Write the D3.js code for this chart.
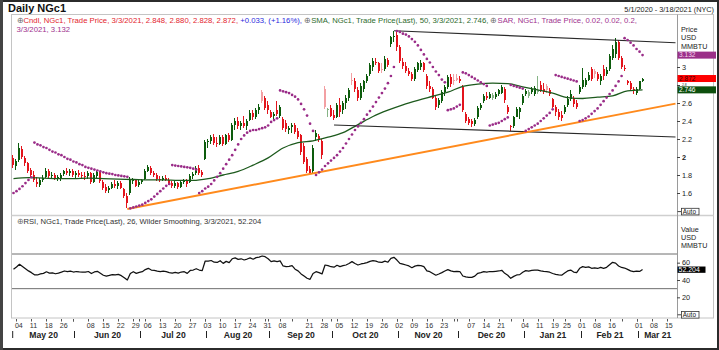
<!DOCTYPE html>
<html><head><meta charset="utf-8">
<script src="https://cdn.jsdelivr.net/npm/d3@7/dist/d3.min.js"></script>
<style>
html,body{margin:0;padding:0;background:#fff;}
svg{display:block;font-family:"Liberation Sans",Arial,Helvetica,sans-serif;}
</style></head>
<body><svg id="c" width="719" height="350"></svg>
<script>
// ---------------- DATA ----------------
const startDate = "2020-05-01", endDate = "2021-03-18";
const holidays = ["2020-05-25","2020-07-03","2020-09-07","2020-11-26","2020-12-25","2021-01-01","2021-01-18","2021-02-15"];

const opens = [1.99,1.90,1.97,2.09,1.99,1.93,1.86,1.80,1.72,1.69,1.75,1.78,1.84,1.79,1.80,1.76,1.77,1.81,1.85,1.82,
1.84,1.80,1.82,1.80,1.79,1.79,1.82,1.72,1.79,1.83,1.72,1.67,1.63,1.66,1.70,1.68,1.71,1.65,1.57,1.60,
1.73,1.75,1.69,1.72,1.76,1.85,1.88,1.82,1.80,1.76,1.74,1.77,1.75,1.71,1.68,1.71,1.67,1.72,1.73,1.72,
1.79,1.82,1.88,1.83,1.98,2.17,2.18,2.22,2.16,2.15,2.22,2.15,2.24,2.19,2.36,2.40,2.34,2.38,2.35,2.41,
2.49,2.44,2.52,2.72,2.66,2.58,2.50,2.46,2.52,2.46,2.42,2.38,2.30,2.33,2.36,2.29,2.24,2.12,1.98,1.87,
1.84,2.22,2.23,2.18,2.76,2.52,2.55,2.47,2.45,2.58,2.52,2.60,2.66,2.86,2.84,2.74,2.66,2.76,2.84,2.92,
3.00,3.06,3.04,2.98,2.98,3.08,3.26,3.33,3.36,3.22,3.06,3.01,2.96,2.92,2.87,2.97,3.00,3.04,2.90,2.79,
2.76,2.66,2.58,2.62,2.72,2.78,2.89,2.86,2.88,2.87,2.78,2.48,2.42,2.40,2.37,2.44,2.55,2.62,2.68,2.66,
2.66,2.67,2.70,2.71,2.76,2.56,2.34,2.35,2.45,2.50,2.60,2.70,2.68,2.72,2.70,2.72,2.80,2.76,2.79,2.75,
2.64,2.56,2.50,2.47,2.50,2.58,2.64,2.66,2.60,2.72,2.78,2.80,2.86,2.98,2.96,2.92,2.84,2.98,2.92,2.98,
3.10,3.14,3.28,3.10,2.99,2.85,2.82,2.76,2.71,2.76,2.848];
const highs = [2.02,1.98,2.16,2.12,2.01,1.95,1.88,1.84,1.78,1.77,1.80,1.88,1.87,1.83,1.82,1.80,1.82,1.86,1.88,1.87,
1.87,1.84,1.86,1.83,1.83,1.84,1.83,1.82,1.85,1.84,1.74,1.70,1.68,1.72,1.74,1.73,1.73,1.66,1.60,1.78,
1.77,1.76,1.74,1.76,1.87,1.91,1.90,1.85,1.82,1.79,1.79,1.80,1.77,1.73,1.73,1.72,1.74,1.76,1.76,1.81,
1.83,1.90,1.91,1.86,2.19,2.20,2.25,2.26,2.22,2.25,2.24,2.26,2.27,2.38,2.43,2.44,2.40,2.46,2.42,2.52,
2.52,2.55,2.59,2.74,2.68,2.62,2.52,2.50,2.62,2.58,2.44,2.41,2.35,2.38,2.38,2.32,2.26,2.16,2.00,1.90,
2.13,2.30,2.26,2.20,2.79,2.55,2.58,2.52,2.60,2.66,2.62,2.69,2.77,2.93,2.88,2.78,2.82,2.86,2.92,3.05,
3.10,3.10,3.06,3.04,3.12,3.10,3.35,3.40,3.40,3.24,3.10,3.06,2.99,2.95,3.00,3.06,3.08,3.06,2.92,2.84,
2.78,2.68,2.66,2.74,2.80,2.91,2.92,2.92,2.92,2.90,2.80,2.50,2.44,2.42,2.43,2.57,2.60,2.70,2.72,2.72,
2.71,2.72,2.76,2.80,2.78,2.58,2.36,2.46,2.56,2.56,2.70,2.76,2.75,2.78,2.79,2.90,2.84,2.82,2.81,2.77,
2.66,2.58,2.53,2.51,2.58,2.68,2.74,2.68,2.63,2.80,2.99,2.88,2.95,3.00,2.98,2.94,2.92,3.02,3.00,3.14,
3.25,3.32,3.30,3.12,3.02,2.86,2.84,2.78,2.78,2.85,2.880];
const lows = [1.88,1.86,1.95,1.98,1.90,1.82,1.78,1.72,1.67,1.67,1.72,1.77,1.77,1.76,1.74,1.73,1.73,1.79,1.80,1.79,
1.78,1.77,1.78,1.76,1.74,1.76,1.70,1.71,1.77,1.71,1.63,1.60,1.60,1.64,1.66,1.65,1.64,1.55,1.43,1.58,
1.70,1.67,1.67,1.70,1.75,1.83,1.80,1.78,1.73,1.72,1.73,1.73,1.69,1.66,1.66,1.65,1.66,1.70,1.67,1.71,
1.76,1.80,1.80,1.78,1.97,2.10,2.14,2.13,2.11,2.13,2.12,2.13,2.17,2.18,2.30,2.31,2.30,2.32,2.30,2.40,
2.41,2.42,2.48,2.60,2.52,2.48,2.43,2.40,2.46,2.43,2.30,2.28,2.26,2.27,2.26,2.20,2.02,1.92,1.82,1.80,
1.82,2.18,2.17,1.98,2.53,2.45,2.44,2.41,2.43,2.45,2.48,2.53,2.62,2.80,2.72,2.62,2.63,2.72,2.82,2.90,
2.96,3.02,2.93,2.93,2.96,3.00,3.22,3.28,3.18,3.04,2.98,2.93,2.90,2.84,2.85,2.95,2.97,2.95,2.76,2.72,
2.64,2.52,2.55,2.60,2.68,2.76,2.78,2.80,2.84,2.82,2.50,2.38,2.36,2.33,2.35,2.42,2.52,2.60,2.63,2.64,
2.63,2.64,2.68,2.70,2.60,2.48,2.29,2.32,2.44,2.42,2.58,2.68,2.66,2.70,2.68,2.70,2.72,2.70,2.71,2.68,
2.54,2.46,2.41,2.40,2.48,2.56,2.62,2.56,2.53,2.70,2.76,2.78,2.84,2.84,2.88,2.84,2.80,2.86,2.90,2.96,
3.08,3.10,3.08,2.98,2.96,2.80,2.73,2.70,2.69,2.74,2.828];
const closes = [1.91,1.96,2.10,2.00,1.93,1.85,1.80,1.74,1.70,1.75,1.77,1.85,1.79,1.80,1.76,1.78,1.80,1.84,1.82,1.85,
1.80,1.82,1.80,1.79,1.78,1.82,1.72,1.80,1.83,1.73,1.66,1.62,1.66,1.70,1.68,1.71,1.66,1.57,1.49,1.75,
1.75,1.68,1.72,1.74,1.85,1.89,1.82,1.80,1.76,1.74,1.77,1.75,1.71,1.68,1.71,1.67,1.72,1.74,1.70,1.79,
1.81,1.88,1.82,1.80,2.17,2.18,2.22,2.16,2.15,2.22,2.14,2.24,2.19,2.36,2.40,2.34,2.38,2.35,2.40,2.49,
2.44,2.52,2.56,2.62,2.55,2.52,2.45,2.48,2.48,2.56,2.32,2.31,2.32,2.36,2.28,2.22,2.06,1.95,1.85,1.82,
2.10,2.27,2.19,2.02,2.56,2.53,2.46,2.43,2.58,2.50,2.60,2.66,2.74,2.84,2.76,2.66,2.79,2.84,2.90,3.02,
3.07,3.04,2.96,2.97,3.09,3.02,3.33,3.35,3.22,3.07,3.01,2.96,2.92,2.87,2.98,3.04,3.05,2.97,2.79,2.76,
2.66,2.56,2.63,2.72,2.78,2.89,2.81,2.84,2.86,2.85,2.52,2.40,2.38,2.37,2.41,2.55,2.58,2.68,2.66,2.70,
2.69,2.70,2.74,2.78,2.63,2.50,2.33,2.44,2.53,2.54,2.68,2.73,2.72,2.76,2.77,2.75,2.74,2.72,2.74,2.70,
2.56,2.50,2.44,2.43,2.56,2.65,2.70,2.59,2.56,2.78,2.86,2.86,2.91,2.87,2.92,2.87,2.90,2.90,2.97,3.12,
3.20,3.28,3.10,3.00,2.98,2.82,2.76,2.73,2.76,2.839,2.872];

// Parabolic SAR (0.02, 0.02, 0.2) read per day
const sar = [1.60,1.62,1.645,1.675,1.71,1.745,1.775,
2.16,2.14,2.13,2.11,2.10,2.08,2.06,2.05,2.03,2.02,2.00,1.98,1.97,1.95,1.94,1.92,1.91,1.89,1.88,1.87,1.86,1.85,1.84,1.83,1.82,1.815,1.81,1.80,1.795,1.79,1.785,1.78,
1.43,1.44,1.45,1.46,1.47,1.49,1.51,1.53,1.56,1.59,1.62,1.65,1.68,1.70,
1.91,1.905,1.90,1.895,1.89,1.885,1.88,1.87,1.86,
1.60,1.62,1.65,1.67,1.70,1.74,1.78,1.82,1.87,1.92,1.97,2.02,2.08,2.14,2.20,2.24,2.27,2.29,2.30,2.30,2.31,2.32,2.33,2.35,2.39,2.41,2.43,
2.74,2.73,2.72,2.71,2.69,2.67,2.64,2.59,2.53,2.46,2.37,2.29,
1.80,1.83,1.86,1.90,1.93,1.96,1.99,2.02,2.06,2.10,2.15,2.20,2.25,2.30,2.34,2.38,2.42,2.47,2.51,2.56,2.61,2.66,2.71,2.76,2.82,2.90,3.00,
3.40,3.39,3.37,3.36,3.34,3.31,3.28,3.24,3.19,3.14,3.09,3.05,3.00,2.95,2.91,2.86,2.83,
2.52,2.53,2.54,2.56,2.58,
2.94,2.93,2.91,2.89,2.87,2.85,2.83,2.81,2.79,
2.35,2.36,2.37,2.38,2.40,2.42,2.44,
2.80,2.79,2.78,2.77,2.76,
2.29,2.31,2.33,2.35,2.37,2.40,2.43,2.46,2.49,2.53,
2.91,2.90,2.89,2.88,2.87,2.86,2.85,2.84,
2.40,2.41,2.43,2.45,2.48,2.51,2.54,2.58,2.62,2.66,2.70,2.74,2.79,2.84,2.90,
3.32,3.30,3.27,3.24,3.20,3.17,3.132];

// 50-day SMA, read weekly [trading-day index, value]
const smaPoints = [[0,1.76],[5,1.77],[10,1.765],[15,1.76],[20,1.76],[25,1.765],[30,1.76],[35,1.755],[40,1.75],[45,1.745],
[50,1.745],[55,1.74],[60,1.74],[65,1.76],[70,1.80],[75,1.84],[80,1.91],[85,1.99],[90,2.10],[95,2.16],[100,2.18],
[105,2.22],[110,2.27],[115,2.36],[120,2.45],[125,2.52],[130,2.58],[135,2.63],[140,2.675],[145,2.72],[150,2.785],
[155,2.81],[160,2.82],[165,2.815],[170,2.78],[175,2.745],[180,2.71],[185,2.66],[190,2.65],[195,2.665],[200,2.68],
[205,2.735],[210,2.746]];

// RSI (26, Wilder) per day
const rsi = [52.3,55,58.1,55.5,53,50.5,48.5,46,45.8,47,47.7,49.5,48,48.3,47.2,48,49,50.4,49.6,50.3,
49.2,49.8,49.4,49.2,49,49.8,47.5,49.3,50,47.8,45.5,44.4,45.3,46.3,45.8,46.5,45,42.5,40,47.5,
49.6,47.7,48.8,49.6,52,53.5,51.5,51,50.2,49.7,50.3,49.6,48.5,47.9,48.8,47.9,49.2,49.6,47.7,51,
51.5,53,51.5,50.8,61.9,61.8,62.5,60.5,60.2,62.3,59.2,61.5,60,64.5,65.5,63.8,64.5,63.1,64.2,65.5,
64,65.8,66.5,67.7,66.9,64.5,61.2,62,61.2,62,56.2,55.5,55.8,56.5,52.5,50.5,47,44.5,42,40.8,
47.5,49.6,48.5,47,57.3,56.5,55.3,54.8,57,55.4,56.5,57.3,59,61.2,59,57.3,58.5,59.2,60,61.5,
62.3,61.8,60.5,60.3,61.8,60.5,65,66.2,63,59.2,58.3,57.3,56.2,54.2,56,56.8,56.5,55.5,50.5,49.6,
47.5,45.5,46.9,48.5,50.4,52,50.5,49.6,50,49.8,44.6,43.5,43.1,43,44.5,47.7,48.5,49.6,49.2,49.8,
49.6,50,50.4,51.2,47.7,45.5,41.9,44.2,45.8,46.2,49,50.8,50.2,51,51.3,51.5,50.5,50,49.6,49,
47.5,46.5,45.8,45.6,48,50.5,51.5,49.2,48.5,53.5,55.4,54.6,55.2,53.5,54,53.3,54.5,53.5,54.6,57.5,
60.4,59.5,56.2,54.5,53.8,52.3,50.5,49.6,50.2,49.9,52.204];

// Drawn trend lines: [date, price]
const orangeLine = [["2020-06-25",1.422],["2021-03-18",2.593]];
const topLine = [["2020-10-30",3.403],["2021-03-18",3.27]];
const lowerLine = [["2020-10-02",2.356],["2021-03-18",2.222]];

const priceTicks = [1.6,1.8,2,2.2,2.4,2.6,2.8,3];
const rsiTicks = [20,40,60];
const rsiBands = [30,70];
const weekTicks = [["2020-05-04","04"],["2020-05-11","11"],["2020-05-18","18"],["2020-05-26","26"],["2020-06-01",""],
["2020-06-08","08"],["2020-06-15","15"],["2020-06-22","22"],["2020-06-29","29"],["2020-07-06","06"],["2020-07-13","13"],
["2020-07-20","20"],["2020-07-27","27"],["2020-08-03","03"],["2020-08-10","10"],["2020-08-17","17"],["2020-08-24","24"],
["2020-08-31","31"],["2020-09-08","08"],["2020-09-14",""],["2020-09-21","21"],["2020-09-28","28"],["2020-10-05","05"],
["2020-10-12","12"],["2020-10-19","19"],["2020-10-26","26"],["2020-11-02","02"],["2020-11-09","09"],["2020-11-16","16"],
["2020-11-23","23"],["2020-11-30",""],["2020-12-07","07"],["2020-12-14","14"],["2020-12-21","21"],["2020-12-28",""],
["2021-01-04","04"],["2021-01-11","11"],["2021-01-19","19"],["2021-01-25","25"],["2021-02-01","01"],["2021-02-08","08"],
["2021-02-16","16"],["2021-02-22",""],["2021-03-01","01"],["2021-03-08","08"],["2021-03-15","15"]];

// ---------------- CHART ----------------
const svg = d3.select("#c");
const parse = d3.utcParse("%Y-%m-%d"), fmt = d3.utcFormat("%Y-%m-%d");
const hol = new Set(holidays);
const allDates = d3.utcDays(parse(startDate), d3.utcDay.offset(parse(endDate),1))
  .filter(d => d.getUTCDay()%6 !== 0 && !hol.has(fmt(d))).map(fmt);

const PL = 12, PR = 677;
const x = d3.scaleBand().domain(allDates).range([PL, PR]);
const cx = d => x(d) + x.bandwidth()/2;
const cxi = i => cx(allDates[i]);
const y = d3.scaleLinear().domain([2,3]).range([157,67]);
const yr = d3.scaleLinear().domain([40,60]).range([280,262.67]);

// outer frame
svg.append("rect").attr("x",1).attr("y",1).attr("width",717).attr("height",348)
  .attr("fill","#fff").attr("stroke","#2b2b2b").attr("stroke-width",2);
svg.append("rect").attr("x",0).attr("y",0).attr("width",3).attr("height",350).attr("fill","#444");

// panels
const g = svg.append("g");
g.append("rect").attr("x",11.5).attr("y",14.5).attr("width",702).attr("height",303.5)
  .attr("fill","none").attr("stroke","#c4c4c4");
g.append("line").attr("x1",11.5).attr("x2",713.5).attr("y1",215.5).attr("y2",215.5)
  .attr("stroke","#cfcfcf").attr("stroke-width",1.5);
g.append("line").attr("x1",677.5).attr("x2",677.5).attr("y1",14.5).attr("y2",318)
  .attr("stroke","#9a9a9a");

const defs = svg.append("defs");
defs.append("clipPath").attr("id","cm").append("rect").attr("x",PL).attr("y",15).attr("width",PR-PL).attr("height",200);
defs.append("clipPath").attr("id","cr").append("rect").attr("x",PL).attr("y",216).attr("width",PR-PL).attr("height",101);

// title texts
svg.append("text").attr("x",8).attr("y",12).attr("font-size",11).attr("font-weight","bold").attr("fill","#111").text("Daily NGc1");
const mdY = d3.utcFormat("%-m/%-d/%Y");
svg.append("text").attr("x",714).attr("y",11.5).attr("text-anchor","end").attr("font-size",7.3).attr("fill","#222")
  .text(`${mdY(parse(startDate))} - ${mdY(parse(endDate))} (NYC)`);

// main plot
const mp = svg.append("g").attr("clip-path","url(#cm)");
const data = opens.map((o,i)=>({d:allDates[i], o, h:highs[i], l:lows[i], c:closes[i], pc: i ? closes[i-1] : o}));
function candleColor(k){
  const up = k.c >= k.o;
  if (up) return k.c >= k.pc ? "#0d5c0d" : "#86b486";
  return k.c <= k.pc ? "#e3141c" : "#f3a0a3";
}
const cg = mp.append("g").attr("shape-rendering","crispEdges");
data.forEach(k=>{
  const r = Math.round(cx(k.d));
  const col = candleColor(k);
  cg.append("rect").attr("x",r-1).attr("width",1).attr("y",y(k.h)).attr("height",Math.max(1,y(k.l)-y(k.h))).attr("fill",col);
  const top = y(Math.max(k.o,k.c)), bot = y(Math.min(k.o,k.c));
  cg.append("rect").attr("x",r-1.5).attr("width",2).attr("y",top).attr("height",Math.max(1,bot-top)).attr("fill",col);
});

// SMA
mp.append("path").datum(smaPoints)
  .attr("d", d3.line().x(p=>cxi(p[0])).y(p=>y(p[1])).curve(d3.curveMonotoneX))
  .attr("fill","none").attr("stroke","#1d5a1d").attr("stroke-width",1.3);

// trend lines
const tl = d3.line().x(p=>cx(p[0])).y(p=>y(p[1]));
mp.append("path").datum(lowerLine).attr("d",tl).attr("stroke","#2a2a2a").attr("stroke-width",1.1).attr("fill","none");
mp.append("path").datum(topLine).attr("d",tl).attr("stroke","#2a2a2a").attr("stroke-width",1.1).attr("fill","none");
mp.append("path").datum(orangeLine).attr("d",tl).attr("stroke","#ff8a1c").attr("stroke-width",2).attr("fill","none");

// SAR dots
mp.append("g").selectAll("circle").data(sar).join("circle")
  .attr("cx",(v,i)=>cxi(i)).attr("cy",v=>y(v)).attr("r",1.35).attr("fill","#9a2c88");

// price axis
const pax = svg.append("g").attr("transform",`translate(${PR},0)`)
  .call(d3.axisRight(y).tickValues(priceTicks).tickSize(3).tickPadding(2).tickFormat(d3.format("~g")));
pax.select(".domain").remove();
pax.selectAll("line").attr("stroke","#444");
pax.selectAll("text").attr("font-size",d=>d===2.8?3.4:7.3).attr("fill","#222").attr("font-family",null)
  .attr("dy",d=>d===2.8?"0.15em":"0.32em")
  .attr("font-weight",d=>d===2?"bold":null);
["Price","USD","MMBTU"].forEach((t,i)=>svg.append("text").attr("x",681).attr("y",31.5+i*8.5).attr("font-size",7.2).attr("fill","#222").text(t));

function valueBox(yc, txt, fill, tcol){
  svg.append("rect").attr("x",677.5).attr("y",yc-3.5).attr("width",38.5).attr("height",7).attr("fill",fill);
  svg.append("text").attr("x",679).attr("y",yc+2.3).attr("font-size",6.6).attr("fill",tcol).text(txt);
}
const f3 = d3.format(".3f");
const last = data.length-1;
valueBox(y(sar[last]), f3(sar[last]), "#9b2f88", "#f6d6ee");
valueBox(y(closes[last]), f3(closes[last]), "#ff0000", "#3a0000");
valueBox(y(smaPoints[smaPoints.length-1][1]), f3(smaPoints[smaPoints.length-1][1]), "#0d4f0d", "#ffffff");

function autoBox(yt){
  svg.append("line").attr("x1",677.5).attr("x2",681).attr("y1",yt+3.3).attr("y2",yt+3.3).attr("stroke","#444");
  svg.append("rect").attr("x",681.5).attr("y",yt).attr("width",17.5).attr("height",6.6).attr("fill","#fff").attr("stroke","#333").attr("stroke-width",0.8);
  svg.append("text").attr("x",682.8).attr("y",yt+5.7).attr("font-size",6.4).attr("fill","#111").text("Auto");
}
autoBox(208.3);
autoBox(311.5);

// legend
function legendText(xp, yb, parts){
  const t = svg.append("text").attr("x",xp).attr("y",yb).attr("font-size",8);
  parts.forEach(([s,c])=>t.append("tspan").attr("fill",c).text(s));
  return t;
}
const k = data[last];
const chg = k.c - k.pc, pct = chg/k.pc*100;
const sgn = v => (v>=0?"+":"") ;
const ld = mdY(parse(k.d));
const smaLast = smaPoints[smaPoints.length-1][1];
const l1 = legendText(16.5, 22.5, [
  ["⊕","#6a6a6a"],
  [`Cndl, NGc1, Trade Price, ${ld}, ${f3(k.o)}, ${f3(k.h)}, ${f3(k.l)}, ${f3(k.c)}, `,"#e3262e"],
  [`${sgn(chg)}${f3(chg)}, (${sgn(pct)}${d3.format(".2f")(pct)}%), `,"#2a2adc"],
  ["⊕","#6a6a6a"],
  [`SMA, NGc1, Trade Price(Last), 50, ${ld}, ${f3(smaLast)}, `,"#2d6b2d"],
  ["⊕","#6a6a6a"],
  ["SAR, NGc1, Trade Price,  0.02, 0.02, 0.2,","#a0338e"]
]);
const w1 = l1.node().getComputedTextLength();
const fs = 8*620/w1;
l1.attr("font-size",fs);
legendText(16.5, 31.5, [[`${ld}, ${f3(sar[last])}`,"#a0338e"]]).attr("font-size",fs);

// RSI panel
const rp = svg.append("g").attr("clip-path","url(#cr)");
rsiBands.forEach(b=>rp.append("line").attr("x1",PL).attr("x2",PR).attr("y1",yr(b)).attr("y2",yr(b))
  .attr("stroke","#6e6e6e").attr("stroke-width",1));
rp.append("path").datum(rsi)
  .attr("d", d3.line().x((v,i)=>cxi(i)).y(v=>yr(v)))
  .attr("fill","none").attr("stroke","#111").attr("stroke-width",1.25).attr("stroke-linejoin","round");
const rax = svg.append("g").attr("transform",`translate(${PR},0)`)
  .call(d3.axisRight(yr).tickValues(rsiTicks).tickSize(3).tickPadding(2));
rax.select(".domain").remove();
rax.selectAll("line").attr("stroke","#444");
rax.selectAll("text").attr("font-size",7.3).attr("fill","#222").attr("font-family",null)
  .attr("dy",d=>d===60?"0.2em":"0.32em");
["Value","USD","MMBTU"].forEach((t,i)=>svg.append("text").attr("x",681).attr("y",231.5+i*8.4).attr("font-size",7.2).attr("fill","#222").text(t));
{
  const yc = yr(rsi[last]);
  svg.append("rect").attr("x",677.5).attr("y",yc-2.9).attr("width",28).attr("height",6.3).attr("fill","#000");
  svg.append("text").attr("x",678.5).attr("y",yc+2.6).attr("font-size",7).attr("fill","#fff").text(f3(rsi[last]));
}
const l2 = legendText(16.5, 224, [["⊕","#6a6a6a"],[`RSI, NGc1, Trade Price(Last),  26, Wilder Smoothing, ${ld}, ${f3(rsi[last])}`,"#333"]]);
l2.attr("font-size", 8*245/l2.node().getComputedTextLength());

// bottom axis
const ax = svg.append("g");
weekTicks.forEach(([d,lab])=>{
  const xx = Math.round(cx(d))+0.5;
  ax.append("line").attr("x1",xx).attr("x2",xx).attr("y1",319).attr("y2",321.5).attr("stroke","#555");
  if(lab) ax.append("text").attr("x",cx(d)-1.6).attr("y",327.5).attr("font-size",7.1).attr("fill","#333").text(lab);
});
// months
const monthFirst = [];
allDates.forEach((d,i)=>{ if(i===0 || d.slice(0,7)!==allDates[i-1].slice(0,7)) monthFirst.push(d); });
const sepX = monthFirst.map((d,i)=> i===0 ? 12.7 : Math.round(cx(d)+1)+0.5);
const mfmt = d3.utcFormat("%b %y");
monthFirst.forEach((d,i)=>{
  const xs = sepX[i];
  if(i>0){ ax.append("line").attr("x1",Math.round(cx(d))+0.5).attr("x2",Math.round(cx(d))+0.5).attr("y1",319).attr("y2",321.5).attr("stroke","#555"); }
  ax.append("line").attr("x1",xs).attr("x2",xs).attr("y1",331).attr("y2",338).attr("stroke","#222");
  const xe = i < monthFirst.length-1 ? sepX[i+1] : PR;
  ax.append("text").attr("x",(xs+xe)/2).attr("y",337.5).attr("text-anchor","middle")
    .attr("font-size",8.6).attr("font-weight","bold").attr("fill","#222").text(mfmt(parse(d)));
});
</script>
</body></html>
